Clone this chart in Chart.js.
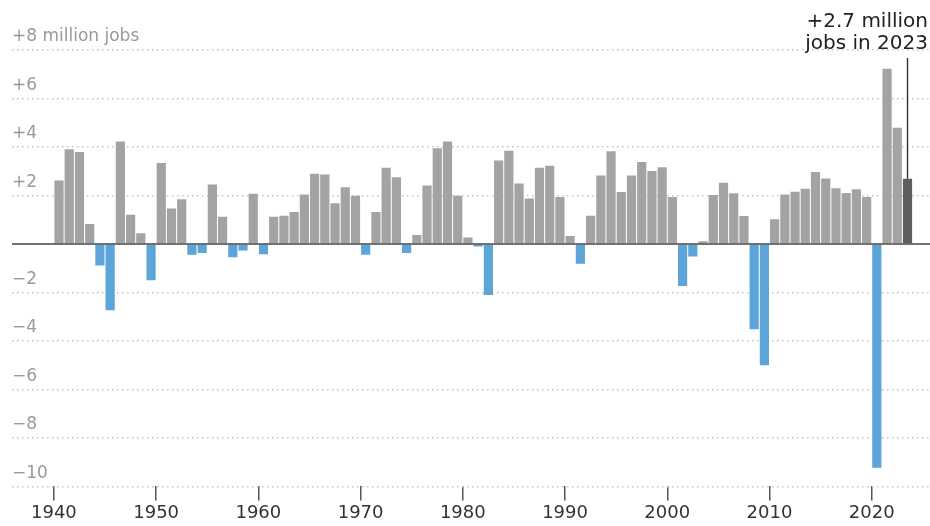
<!DOCTYPE html>
<html lang="en">
<head>
    <meta charset="UTF-8">
    <title>Annual job change</title>
    <style>
        html, body { margin: 0; padding: 0; background: #fff; }
        #wrap { width: 930px; height: 526px; }
    </style>
</head>
<body>

<div id="wrap">
    <canvas id="myChart" width="930" height="526"></canvas>
</div>

<script src="https://cdn.jsdelivr.net/npm/chart.js"></script>
<script>
    // yearly change in jobs, millions
    const firstYear = 1940;
    const jobChange = [
        2.62, 3.91, 3.79, 0.82, -0.89, -2.73, 4.23, 1.20, 0.44, -1.50,
        3.34, 1.46, 1.84, -0.45, -0.37, 2.45, 1.12, -0.55, -0.27, 2.07,
        -0.42, 1.12, 1.16, 1.32, 2.04, 2.90, 2.86, 1.68, 2.34, 1.99,
        -0.45, 1.32, 3.14, 2.75, -0.37, 0.37, 2.41, 3.95, 4.23, 1.99,
        0.27, -0.10, -2.11, 3.44, 3.84, 2.49, 1.87, 3.14, 3.23, 1.94,
        0.33, -0.82, 1.16, 2.82, 3.82, 2.14, 2.82, 3.38, 3.01, 3.16,
        1.94, -1.73, -0.52, 0.11, 2.02, 2.52, 2.09, 1.15, -3.52, -5.00,
        1.02, 2.04, 2.15, 2.28, 2.97, 2.70, 2.30, 2.10, 2.26, 1.94,
        -9.23, 7.23, 4.79, 2.69
    ];
    const years = jobChange.map((v, i) => firstYear + i);
    const decadeTicks = [1940, 1950, 1960, 1970, 1980, 1990, 2000, 2010, 2020];
    const yTicks = [-10, -8, -6, -4, -2, 0, 2, 4, 6, 8];
    const highlightYear = 2023;
    const noteLines = ['+2.7 million', 'jobs in 2023'];

    const GRAY = '#a3a3a3';
    const BLUE = '#5da5d8';
    const DARK = '#5e5e5e';
    const FONT = '"DejaVu Sans", sans-serif';

    function barColor(i) {
        if (years[i] === highlightYear) return DARK;
        return jobChange[i] < 0 ? BLUE : GRAY;
    }

    // zero line + note for the last year
    const extras = {
        id: 'extras',
        afterDatasetsDraw(chart) {
            const {ctx, chartArea, scales: {x, y}} = chart;
            const y0 = y.getPixelForValue(0);
            ctx.save();
            ctx.strokeStyle = '#444';
            ctx.lineWidth = 1.6;
            ctx.beginPath();
            ctx.moveTo(chartArea.left, y0);
            ctx.lineTo(chartArea.right, y0);
            ctx.stroke();

            const idx = years.indexOf(highlightYear);
            const bar = chart.getDatasetMeta(0).data[idx];
            ctx.strokeStyle = '#333';
            ctx.lineWidth = 1.4;
            ctx.beginPath();
            ctx.moveTo(bar.x, 58);
            ctx.lineTo(bar.x, bar.y);
            ctx.stroke();

            ctx.fillStyle = '#222';
            ctx.font = '20px ' + FONT;
            ctx.textAlign = 'right';
            ctx.textBaseline = 'alphabetic';
            ctx.fillText(noteLines[0], 928, 27);
            ctx.fillText(noteLines[1], 928, 49);
            ctx.restore();
        }
    };

    function init() {
        let ctx = document.getElementById("myChart").getContext('2d');
        new Chart(ctx, {
            type: 'bar',
            data: {
                datasets: [{
                    data: years.map((yr, i) => ({x: yr + 0.5, y: jobChange[i]})),
                    backgroundColor: jobChange.map((v, i) => barColor(i)),
                    borderWidth: 0,
                    barPercentage: 0.9,
                    categoryPercentage: 1,
                }]
            },
            options: {
                responsive: false,
                animation: false,
                layout: {padding: {left: 12, right: 0, top: 50, bottom: 0}},
                plugins: {legend: {display: false}, tooltip: {enabled: false}},
                scales: {
                    x: {
                        type: 'linear',
                        offset: false,
                        min: 1935.9,
                        max: 2025.7,
                        afterBuildTicks: scale => {
                            scale.ticks = decadeTicks.map(v => ({value: v}));
                        },
                        grid: {
                            offset: false,
                            drawOnChartArea: false,
                            drawTicks: true,
                            tickLength: 14,
                            color: '#555',
                            lineWidth: 1.5,
                        },
                        border: {display: false},
                        ticks: {
                            padding: 2,
                            color: '#333',
                            font: {family: FONT, size: 18},
                            callback: v => String(v),
                            maxRotation: 0,
                            autoSkip: false,
                        },
                    },
                    y: {
                        min: -10,
                        max: 8,
                        afterBuildTicks: scale => {
                            scale.ticks = yTicks.map(v => ({value: v}));
                        },
                        grid: {
                            drawTicks: false,
                            color: c => c.tick && c.tick.value === 0 ? 'rgba(0,0,0,0)' : '#c4c4c4',
                            lineWidth: 1.5,
                        },
                        border: {display: false, dash: [1.5, 3.5]},
                        ticks: {
                            mirror: true,
                            padding: 0,
                            labelOffset: -13,
                            color: '#9a9a9a',
                            font: {family: FONT, size: 17},
                            callback: v => {
                                if (v === 0) return '';
                                if (v === 8) return '+8 million jobs';
                                return v > 0 ? '+' + v : '\u2212' + Math.abs(v);
                            },
                        },
                    },
                },
            },
            plugins: [extras],
        });
    }

    document.addEventListener('DOMContentLoaded', init);
</script>

</body>
</html>
